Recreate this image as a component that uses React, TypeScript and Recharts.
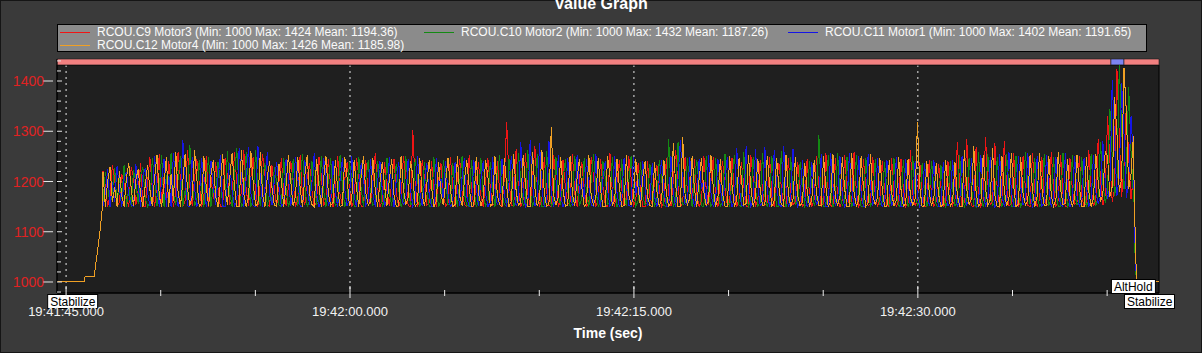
import React from "react";
import { LineChart, Line, XAxis, YAxis, CartesianGrid, ReferenceArea, ReferenceDot, Legend } from "recharts";

// seconds after 19:41:00
const X_MIN = 44.52;
const X_MAX = 102.74;
const Y_MIN = 978.1;
const Y_MAX = 1443.8;
const PLOT_TOP_VALUE = 1432;

const seriesKeys = ["m3", "m2", "m1", "m4"];
const seriesNames = ["RCOU.C9 Motor3", "RCOU.C10 Motor2", "RCOU.C11 Motor1", "RCOU.C12 Motor4"];
const seriesMin = [1000, 1000, 1000, 1000];
const seriesMax = [1424, 1432, 1402, 1426];
const seriesMean = ["1194.36", "1187.26", "1191.65", "1185.98"];
const COLORS = ["#f01414", "#138a13", "#1515e6", "#f0a024"];

const xTicks = [45, 50, 55, 60, 65, 70, 75, 80, 85, 90, 95, 100];
const xMajor = [45, 60, 75, 90];
const yTicks = [980, 1000, 1020, 1040, 1060, 1080, 1100, 1120, 1140, 1160, 1180, 1200, 1220, 1240, 1260, 1280, 1300, 1320, 1340, 1360, 1380, 1400, 1420, 1440];

const modeTimes = [44.0, 100.2, 100.89];
const modeNames = ["Stabilize", "AltHold", "Stabilize"];

// on the ground, before take-off (all motors the same)
const preTimes = [44.52, 45.95, 46.0, 46.48, 46.8, 46.9];
const preValues = [1000, 1000, 1010, 1010, 1103, 1143];

// flight samples (log period)
const flightStart = 46.95;
const flightStep = 0.124;

const motor3 = [
  1221, 1190, 1150, 1172, 1232, 1204, 1150, 1158, 1215, 1196, 1165, 1150, 1228, 1210, 1154, 1183, 1236, 1150, 1150, 1201,
  1248, 1185, 1150, 1197, 1254, 1150, 1210, 1157, 1240, 1193, 1150, 1178, 1259, 1205, 1150, 1162, 1262, 1191, 1152, 1208,
  1244, 1196, 1150, 1171, 1251, 1150, 1209, 1165, 1238, 1188, 1150, 1150, 1247, 1212, 1155, 1163, 1258, 1199, 1150, 1180,
  1262, 1184, 1151, 1208, 1249, 1179, 1150, 1196, 1255, 1213, 1153, 1150, 1232, 1186, 1150, 1202, 1246, 1175, 1152, 1190,
  1241, 1201, 1150, 1163, 1253, 1170, 1154, 1210, 1236, 1183, 1150, 1159, 1249, 1214, 1151, 1166, 1244, 1190, 1150, 1181,
  1250, 1174, 1152, 1204, 1239, 1186, 1150, 1164, 1247, 1209, 1150, 1150, 1242, 1169, 1155, 1198, 1256, 1190, 1150, 1160,
  1238, 1182, 1151, 1199, 1245, 1176, 1150, 1165, 1251, 1210, 1152, 1150, 1302, 1195, 1150, 1163, 1243, 1206, 1153, 1159,
  1240, 1184, 1150, 1203, 1236, 1170, 1151, 1158, 1249, 1191, 1150, 1209, 1244, 1178, 1154, 1150, 1252, 1186, 1150, 1197,
  1238, 1173, 1150, 1200, 1246, 1189, 1152, 1157, 1241, 1180, 1150, 1207, 1318, 1201, 1153, 1150, 1265, 1187, 1150, 1163,
  1257, 1175, 1151, 1208, 1270, 1192, 1150, 1166, 1248, 1181, 1152, 1150, 1252, 1204, 1150, 1161, 1243, 1188, 1154, 1159,
  1254, 1177, 1150, 1206, 1239, 1185, 1151, 1157, 1249, 1211, 1150, 1165, 1245, 1190, 1153, 1150, 1256, 1179, 1150, 1198,
  1242, 1186, 1152, 1158, 1250, 1207, 1150, 1163, 1236, 1183, 1150, 1150, 1241, 1169, 1154, 1201, 1233, 1188, 1150, 1157,
  1246, 1176, 1151, 1203, 1262, 1191, 1150, 1158, 1249, 1180, 1208, 1150, 1244, 1173, 1150, 1162, 1251, 1185, 1153, 1199,
  1248, 1170, 1150, 1205, 1240, 1187, 1152, 1157, 1247, 1178, 1150, 1165, 1238, 1192, 1151, 1150, 1252, 1209, 1150, 1163,
  1243, 1182, 1153, 1158, 1249, 1171, 1150, 1204, 1236, 1189, 1150, 1150, 1246, 1177, 1154, 1160, 1239, 1184, 1150, 1157,
  1245, 1173, 1151, 1164, 1251, 1190, 1150, 1158, 1256, 1180, 1152, 1150, 1247, 1169, 1150, 1163, 1253, 1186, 1153, 1159,
  1258, 1178, 1150, 1161, 1244, 1191, 1151, 1157, 1249, 1174, 1150, 1165, 1240, 1183, 1154, 1150, 1247, 1170, 1150, 1162,
  1244, 1187, 1150, 1158, 1262, 1176, 1152, 1163, 1238, 1181, 1150, 1150, 1242, 1172, 1151, 1160, 1235, 1189, 1150, 1157,
  1241, 1175, 1153, 1164, 1278, 1193, 1150, 1158, 1285, 1182, 1152, 1150, 1269, 1170, 1150, 1162, 1288, 1196, 1154, 1159,
  1276, 1184, 1150, 1161, 1281, 1190, 1151, 1157, 1256, 1173, 1150, 1165, 1250, 1186, 1153, 1150, 1257, 1179, 1150, 1163,
  1248, 1171, 1152, 1158, 1259, 1188, 1150, 1162, 1252, 1176, 1150, 1150, 1246, 1184, 1155, 1160, 1251, 1169, 1150, 1157,
  1262, 1186, 1151, 1164, 1285, 1204, 1153, 1172, 1330, 1240, 1160, 1185, 1424, 1290, 1170, 1230, 1352, 1248, 1165, 1210,
];

const motor2 = [
  1160, 1218, 1195, 1150, 1180, 1226, 1150, 1207, 1165, 1233, 1150, 1188, 1150, 1222, 1199, 1155, 1212, 1229, 1168, 1150,
  1157, 1246, 1201, 1151, 1188, 1252, 1150, 1212, 1150, 1257, 1178, 1153, 1206, 1250, 1150, 1183, 1159, 1272, 1198, 1152,
  1163, 1243, 1182, 1150, 1205, 1249, 1150, 1191, 1166, 1238, 1203, 1154, 1150, 1260, 1177, 1150, 1210, 1266, 1184, 1151,
  1157, 1258, 1200, 1150, 1164, 1262, 1190, 1152, 1207, 1236, 1150, 1180, 1161, 1229, 1199, 1153, 1150, 1247, 1186, 1150,
  1165, 1244, 1175, 1151, 1198, 1255, 1189, 1150, 1162, 1240, 1208, 1154, 1159, 1251, 1183, 1150, 1201, 1246, 1178, 1152,
  1157, 1253, 1192, 1150, 1166, 1238, 1205, 1151, 1150, 1249, 1185, 1150, 1203, 1243, 1170, 1153, 1158, 1240, 1211, 1150,
  1164, 1247, 1176, 1152, 1202, 1235, 1183, 1150, 1162, 1251, 1191, 1154, 1157, 1244, 1208, 1150, 1165, 1239, 1180, 1151,
  1150, 1248, 1187, 1150, 1163, 1242, 1206, 1153, 1158, 1237, 1184, 1150, 1200, 1250, 1176, 1152, 1150, 1243, 1190, 1150,
  1161, 1246, 1173, 1151, 1159, 1239, 1186, 1150, 1210, 1252, 1178, 1154, 1150, 1245, 1192, 1150, 1162, 1256, 1205, 1152,
  1158, 1262, 1184, 1150, 1165, 1255, 1175, 1151, 1150, 1261, 1189, 1150, 1163, 1248, 1170, 1153, 1203, 1244, 1181, 1150,
  1157, 1251, 1193, 1152, 1166, 1246, 1174, 1150, 1201, 1254, 1185, 1150, 1161, 1240, 1208, 1154, 1159, 1249, 1188, 1150,
  1164, 1245, 1177, 1151, 1200, 1251, 1183, 1150, 1162, 1238, 1170, 1153, 1158, 1235, 1190, 1150, 1165, 1242, 1206, 1152,
  1150, 1284, 1186, 1150, 1163, 1279, 1172, 1154, 1157, 1247, 1181, 1150, 1205, 1243, 1189, 1152, 1150, 1250, 1174, 1150,
  1161, 1246, 1184, 1151, 1159, 1255, 1170, 1150, 1204, 1252, 1192, 1153, 1150, 1258, 1176, 1150, 1162, 1249, 1185, 1152,
  1158, 1257, 1171, 1150, 1165, 1250, 1188, 1151, 1150, 1261, 1177, 1150, 1163, 1248, 1183, 1154, 1160, 1238, 1201, 1150,
  1157, 1241, 1190, 1152, 1166, 1292, 1175, 1150, 1150, 1252, 1186, 1150, 1161, 1256, 1172, 1153, 1159, 1249, 1181, 1150,
  1164, 1253, 1176, 1151, 1150, 1247, 1189, 1150, 1162, 1244, 1170, 1154, 1158, 1238, 1184, 1150, 1165, 1246, 1178, 1152,
  1150, 1243, 1187, 1150, 1163, 1250, 1173, 1153, 1157, 1236, 1182, 1150, 1166, 1241, 1190, 1152, 1150, 1233, 1175, 1150,
  1161, 1240, 1184, 1151, 1159, 1252, 1171, 1150, 1164, 1247, 1188, 1154, 1150, 1258, 1177, 1150, 1162, 1254, 1183, 1152,
  1158, 1249, 1170, 1150, 1165, 1255, 1186, 1151, 1150, 1251, 1175, 1150, 1163, 1258, 1192, 1153, 1160, 1246, 1172, 1150,
  1157, 1254, 1184, 1152, 1166, 1249, 1178, 1150, 1150, 1257, 1190, 1150, 1161, 1252, 1173, 1154, 1159, 1248, 1185, 1150,
  1164, 1255, 1176, 1151, 1170, 1278, 1196, 1158, 1180, 1345, 1250, 1172, 1200, 1432, 1310, 1185, 1220, 1388, 1260, 1175,
];

const motor1 = [
  1150, 1176, 1224, 1150, 1198, 1159, 1231, 1186, 1150, 1206, 1219, 1173, 1154, 1150, 1234, 1190, 1150, 1213, 1227, 1177,
  1151, 1172, 1250, 1183, 1150, 1203, 1244, 1150, 1211, 1150, 1257, 1191, 1150, 1176, 1283, 1209, 1152, 1150, 1249, 1186,
  1150, 1164, 1247, 1201, 1150, 1176, 1241, 1188, 1154, 1206, 1252, 1150, 1150, 1193, 1237, 1182, 1151, 1160, 1266, 1208,
  1150, 1205, 1268, 1176, 1152, 1150, 1271, 1211, 1150, 1188, 1259, 1172, 1153, 1203, 1238, 1189, 1150, 1158, 1245, 1210,
  1151, 1182, 1249, 1207, 1150, 1150, 1242, 1187, 1154, 1196, 1256, 1175, 1150, 1159, 1247, 1212, 1152, 1163, 1240, 1178,
  1150, 1202, 1246, 1184, 1151, 1166, 1251, 1171, 1150, 1195, 1236, 1207, 1153, 1161, 1245, 1176, 1150, 1200, 1241, 1183,
  1152, 1164, 1248, 1190, 1150, 1207, 1239, 1173, 1154, 1162, 1244, 1186, 1150, 1157, 1250, 1179, 1151, 1198, 1237, 1172,
  1150, 1150, 1246, 1189, 1205, 1163, 1241, 1175, 1150, 1158, 1238, 1184, 1152, 1208, 1247, 1170, 1150, 1150, 1243, 1191,
  1151, 1202, 1240, 1177, 1150, 1159, 1249, 1186, 1154, 1164, 1245, 1173, 1150, 1198, 1251, 1190, 1152, 1162, 1278, 1182,
  1150, 1158, 1282, 1195, 1151, 1165, 1276, 1188, 1150, 1150, 1281, 1179, 1153, 1163, 1253, 1172, 1150, 1160, 1247, 1185,
  1152, 1157, 1252, 1176, 1204, 1166, 1244, 1189, 1154, 1150, 1255, 1171, 1150, 1203, 1241, 1183, 1151, 1159, 1250, 1178,
  1150, 1164, 1247, 1190, 1153, 1150, 1249, 1174, 1205, 1162, 1240, 1186, 1152, 1158, 1236, 1170, 1150, 1202, 1242, 1181,
  1151, 1150, 1250, 1177, 1150, 1206, 1283, 1192, 1154, 1157, 1248, 1173, 1150, 1166, 1245, 1185, 1202, 1150, 1252, 1179,
  1150, 1161, 1244, 1188, 1151, 1203, 1249, 1176, 1150, 1164, 1266, 1193, 1153, 1150, 1270, 1181, 1150, 1162, 1264, 1190,
  1152, 1158, 1268, 1184, 1150, 1165, 1262, 1195, 1154, 1150, 1271, 1187, 1150, 1163, 1265, 1178, 1151, 1160, 1242, 1172,
  1150, 1157, 1238, 1183, 1153, 1166, 1254, 1176, 1150, 1150, 1257, 1189, 1152, 1161, 1250, 1171, 1150, 1159, 1256, 1185,
  1151, 1164, 1251, 1178, 1150, 1150, 1255, 1190, 1154, 1162, 1246, 1173, 1150, 1158, 1242, 1186, 1152, 1165, 1248, 1177,
  1150, 1150, 1244, 1184, 1153, 1163, 1240, 1170, 1150, 1157, 1237, 1188, 1152, 1166, 1243, 1179, 1150, 1150, 1238, 1175,
  1151, 1161, 1242, 1190, 1150, 1159, 1250, 1173, 1154, 1164, 1246, 1185, 1150, 1150, 1253, 1178, 1152, 1162, 1249, 1187,
  1150, 1158, 1255, 1172, 1151, 1165, 1258, 1183, 1150, 1150, 1251, 1191, 1153, 1163, 1257, 1176, 1150, 1160, 1250, 1184,
  1152, 1157, 1253, 1188, 1150, 1166, 1249, 1174, 1154, 1150, 1256, 1185, 1150, 1161, 1250, 1171, 1151, 1159, 1247, 1189,
  1150, 1164, 1252, 1180, 1156, 1170, 1280, 1200, 1165, 1190, 1402, 1280, 1172, 1210, 1395, 1296, 1168, 1200, 1330, 1244,
];

const motor4 = [
  1219, 1150, 1202, 1229, 1160, 1188, 1150, 1220, 1172, 1150, 1209, 1236, 1187, 1151, 1203, 1225, 1175, 1150, 1192, 1232,
  1183, 1152, 1207, 1253, 1170, 1150, 1195, 1248, 1150, 1214, 1162, 1259, 1178, 1150, 1200, 1255, 1186, 1152, 1169, 1262,
  1204, 1150, 1157, 1250, 1189, 1151, 1213, 1243, 1171, 1150, 1195, 1254, 1182, 1154, 1208, 1257, 1192, 1150, 1150, 1263,
  1176, 1150, 1168, 1260, 1197, 1152, 1155, 1258, 1173, 1150, 1209, 1240, 1188, 1153, 1151, 1235, 1202, 1150, 1193, 1252,
  1200, 1151, 1170, 1248, 1187, 1150, 1211, 1252, 1175, 1154, 1150, 1245, 1192, 1150, 1206, 1250, 1177, 1152, 1158, 1243,
  1184, 1150, 1153, 1249, 1207, 1151, 1167, 1242, 1188, 1150, 1212, 1250, 1176, 1153, 1160, 1246, 1183, 1150, 1198, 1239,
  1190, 1152, 1204, 1244, 1173, 1150, 1152, 1250, 1186, 1154, 1168, 1241, 1212, 1150, 1157, 1247, 1172, 1151, 1196, 1243,
  1189, 1150, 1161, 1239, 1175, 1153, 1199, 1247, 1184, 1150, 1154, 1250, 1170, 1152, 1203, 1242, 1191, 1150, 1152, 1248,
  1177, 1151, 1167, 1243, 1209, 1150, 1156, 1251, 1173, 1154, 1150, 1246, 1190, 1150, 1161, 1254, 1182, 1152, 1158, 1252,
  1195, 1150, 1150, 1258, 1188, 1151, 1164, 1262, 1179, 1150, 1155, 1308, 1172, 1153, 1170, 1249, 1185, 1150, 1153, 1251,
  1176, 1152, 1207, 1245, 1189, 1150, 1156, 1253, 1171, 1154, 1168, 1247, 1183, 1150, 1151, 1250, 1210, 1151, 1163, 1244,
  1190, 1150, 1152, 1252, 1174, 1153, 1167, 1245, 1186, 1150, 1209, 1240, 1170, 1152, 1150, 1238, 1181, 1150, 1164, 1243,
  1177, 1151, 1158, 1276, 1192, 1150, 1150, 1288, 1173, 1154, 1166, 1251, 1185, 1150, 1207, 1246, 1179, 1152, 1160, 1253,
  1188, 1150, 1169, 1244, 1176, 1151, 1151, 1250, 1193, 1150, 1163, 1247, 1206, 1153, 1156, 1252, 1190, 1150, 1170, 1245,
  1184, 1152, 1154, 1251, 1195, 1150, 1162, 1246, 1187, 1154, 1150, 1253, 1178, 1150, 1166, 1249, 1172, 1151, 1159, 1237,
  1183, 1150, 1165, 1242, 1176, 1153, 1153, 1250, 1189, 1150, 1160, 1255, 1171, 1152, 1170, 1248, 1185, 1150, 1151, 1257,
  1178, 1151, 1163, 1250, 1190, 1150, 1157, 1254, 1173, 1154, 1168, 1246, 1186, 1150, 1150, 1243, 1177, 1152, 1162, 1248,
  1184, 1150, 1156, 1244, 1170, 1153, 1165, 1318, 1188, 1150, 1152, 1240, 1179, 1152, 1167, 1236, 1175, 1150, 1155, 1242,
  1190, 1151, 1160, 1238, 1173, 1150, 1151, 1262, 1185, 1154, 1166, 1270, 1178, 1150, 1157, 1253, 1187, 1152, 1163, 1266,
  1172, 1150, 1150, 1251, 1183, 1151, 1168, 1257, 1191, 1150, 1155, 1249, 1176, 1153, 1161, 1253, 1184, 1150, 1170, 1256,
  1188, 1152, 1152, 1250, 1174, 1150, 1164, 1258, 1185, 1154, 1157, 1245, 1171, 1150, 1169, 1253, 1189, 1151, 1150, 1249,
  1180, 1150, 1166, 1254, 1200, 1160, 1175, 1260, 1250, 1170, 1190, 1368, 1296, 1180, 1205, 1426, 1338, 1185, 1215, 1290,
];

// landing / disarm
const postTimes = [101.44, 101.48, 101.55, 102.74];
const postMotor3 = [1150, 1090, 1000, 1000];
const postMotor2 = [1150, 1038, 1000, 1000];
const postMotor1 = [1150, 1064, 1000, 1000];
const postMotor4 = [1150, 1100, 1002, 1000];

const rows = [
  ...preTimes.map((t, i) => ({ t, m3: preValues[i], m2: preValues[i], m1: preValues[i], m4: preValues[i] })),
  ...motor3.map((v, i) => ({
    t: flightStart + i * flightStep,
    m3: v,
    m2: motor2[i],
    m1: motor1[i],
    m4: motor4[i],
  })),
  ...postTimes.map((t, i) => ({ t, m3: postMotor3[i], m2: postMotor2[i], m1: postMotor1[i], m4: postMotor4[i] })),
];

const FONT = "'Liberation Sans', Arial, sans-serif";
const MODE_FILL: Record<string, string> = { Stabilize: "#f28080", AltHold: "#7c84f2" };

function fmtTime(v: number) {
  const m = 41 + Math.floor(v / 60);
  const s = v % 60;
  return `19:${m}:${String(s).padStart(2, "0")}.000`;
}

function XTick(props: any) {
  const { x, y, payload } = props;
  const major = xMajor.includes(payload.value);
  return (
    <g>
      <line x1={x} x2={x} y1={y - (major ? 7 : 3)} y2={y + (major ? 5 : 3)} stroke="#eeeeee" />
      {major && (
        <text x={x} y={y + 23} textAnchor="middle" fill="#f2f2f2" fontSize={13}>
          {fmtTime(payload.value)}
        </text>
      )}
    </g>
  );
}

function YTick(props: any) {
  const { x, y, payload } = props;
  const ax = x + 13;
  const major = payload.value % 100 === 0;
  return (
    <g>
      {major && <line x1={ax - 14} x2={ax - 4} y1={y} y2={y} stroke="#e6e6e6" />}
      <line x1={ax} x2={ax + (major ? 5 : 4)} y1={y} y2={y} stroke="#e6e6e6" />
      {major && (
        <text x={x} y={y} dy={5} textAnchor="end" fill="#e02222" fontSize={14}>
          {payload.value}
        </text>
      )}
    </g>
  );
}

let measureCtx: CanvasRenderingContext2D | null = null;
function textWidth(s: string) {
  if (!measureCtx) measureCtx = document.createElement("canvas").getContext("2d");
  if (!measureCtx) return s.length * 5.5;
  measureCtx.font = `12px ${FONT}`;
  return measureCtx.measureText(s).width;
}

function ModeLabel({ cx, cy, name, raised }: any) {
  const w = Math.round(textWidth(name)) + 5;
  const top = raised ? cy - 14 : cy + 1;
  return (
    <g>
      <rect x={cx + 0.5} y={top + 0.5} width={w} height={14} fill="#ffffff" stroke="#000" />
      <text x={cx + 3} y={top + 11.5} fontSize={12} fill="#000">
        {name}
      </text>
    </g>
  );
}

function LegendBox() {
  return (
    <div
      style={{
        position: "relative",
        width: 1090,
        height: 28,
        background: "#8b8b8b",
        border: "1px solid #000",
        boxSizing: "border-box",
        fontFamily: FONT,
        fontSize: 12,
        color: "#fafafa",
      }}
    >
      {seriesNames.map((n, i) => {
        const col = i % 3;
        const row = Math.floor(i / 3);
        return (
          <div
            key={n}
            style={{
              position: "absolute",
              left: 2 + col * 364,
              top: 1 + row * 13,
              height: 13,
              display: "flex",
              alignItems: "center",
              whiteSpace: "nowrap",
              lineHeight: "13px",
            }}
          >
            <span style={{ display: "inline-block", width: 30, height: 1, background: COLORS[i], marginRight: 7 }} />
            {`${n} (Min: ${seriesMin[i]} Max: ${seriesMax[i]} Mean: ${seriesMean[i]})`}
          </div>
        );
      })}
    </div>
  );
}

export default function App() {
  const segments = modeTimes.map((t, i) => ({
    name: modeNames[i],
    x1: Math.max(t, X_MIN),
    x2: i + 1 < modeTimes.length ? modeTimes[i + 1] : X_MAX,
  }));

  return (
    <div
      style={{
        position: "absolute",
        left: 0,
        top: 0,
        width: 1202,
        height: 353,
        background: "#3a3a3a",
        boxShadow: "inset 0 0 0 1px #151515",
        fontFamily: FONT,
        overflow: "hidden",
      }}
    >
      <div
        style={{
          position: "absolute",
          left: 0,
          top: -4,
          width: 1202,
          textAlign: "center",
          color: "#ffffff",
          fontWeight: "bold",
          fontSize: 16,
          lineHeight: "16px",
        }}
      >
        Value Graph
      </div>
      <LineChart width={1202} height={353} data={rows} margin={{ top: 59, right: 43, bottom: 0, left: 0 }}>
        <CartesianGrid
          fill="#1f1f1f"
          horizontal={false}
          verticalValues={xMajor}
          stroke="#e8e8e8"
          strokeDasharray="2 4"
        />
        <XAxis
          type="number"
          dataKey="t"
          domain={[X_MIN, X_MAX]}
          allowDataOverflow
          ticks={xTicks}
          interval={0}
          height={60}
          tickSize={0}
          tickMargin={0}
          tickLine={false}
          axisLine={{ stroke: "#000" }}
          tick={<XTick />}
          label={{
            content: (p: any) => {
              const vb = p.viewBox || { x: 57, y: 293, width: 1102 };
              return (
                <text
                  x={vb.x + vb.width / 2}
                  y={vb.y + 45}
                  textAnchor="middle"
                  fill="#ffffff"
                  fontWeight="bold"
                  fontSize={14}
                >
                  Time (sec)
                </text>
              );
            },
          }}
        />
        <YAxis
          type="number"
          domain={[Y_MIN, Y_MAX]}
          allowDataOverflow
          ticks={yTicks}
          interval={0}
          width={57}
          tickSize={0}
          tickMargin={13}
          tickLine={false}
          axisLine={{ stroke: "#000" }}
          tick={<YTick />}
        />
        <Legend
          layout="horizontal"
          verticalAlign="middle"
          align="center"
          wrapperStyle={{ top: 24, left: 57, width: 1090, height: 28 }}
          content={() => <LegendBox />}
        />
        {seriesKeys.map((k, i) => (
          <Line
            key={k}
            type="linear"
            dataKey={k}
            name={seriesNames[i]}
            stroke={COLORS[i]}
            strokeWidth={1}
            shapeRendering="crispEdges"
            dot={false}
            activeDot={false}
            isAnimationActive={false}
          />
        ))}
        <ReferenceArea x1={X_MIN} x2={X_MAX} y1={Y_MIN} y2={PLOT_TOP_VALUE} fill="none" stroke="#000" />
        {segments.map((s, i) => (
          <ReferenceArea
            key={`seg${i}`}
            x1={s.x1}
            x2={s.x2}
            y1={PLOT_TOP_VALUE}
            y2={Y_MAX}
            fill={MODE_FILL[s.name]}
            fillOpacity={1}
            stroke="#1a1a1a"
            strokeWidth={0.6}
          />
        ))}
        {modeTimes.map((t, i) => (
          <ReferenceDot
            key={`mode${i}`}
            x={t}
            y={Y_MIN}
            r={0}
            ifOverflow="visible"
            shape={(p: any) => <ModeLabel cx={p.cx} cy={p.cy} name={modeNames[i]} raised={i % 2 === 1} />}
          />
        ))}
      </LineChart>
    </div>
  );
}
